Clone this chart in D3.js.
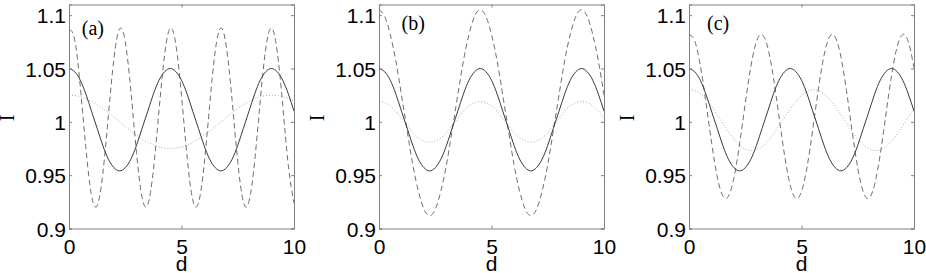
<!DOCTYPE html>
<html>
<head>
<meta charset="utf-8">
<script src="https://cdn.jsdelivr.net/npm/d3@7"></script>
<style>
  body { margin: 0; background: #fff; }
  svg { display: block; }
</style>
</head>
<body>
<svg id="chart" width="926" height="273"></svg>
<script>
// sample positions along d
var dGrid = [0, 0.25, 0.5, 0.75, 1, 1.25, 1.5, 1.75, 2, 2.25, 2.5, 2.75, 3, 3.25, 3.5, 3.75,
  4, 4.25, 4.5, 4.75, 5, 5.25, 5.5, 5.75, 6, 6.25, 6.5, 6.75, 7, 7.25, 7.5, 7.75,
  8, 8.25, 8.5, 8.75, 9, 9.25, 9.5, 9.75, 10];

// solid curve, same in all three panels
var solidI = [1.050, 1.047, 1.039, 1.026, 1.010, 0.994, 0.978, 0.965, 0.957, 0.954,
  0.957, 0.965, 0.978, 0.994, 1.010, 1.026, 1.039, 1.047,
  1.050, 1.047, 1.039, 1.026, 1.010, 0.994, 0.978, 0.965, 0.957, 0.954,
  0.957, 0.965, 0.978, 0.994, 1.010, 1.026, 1.039, 1.047,
  1.050, 1.047, 1.039, 1.026, 1.010];

// panel (a)
var dashedA = [1.0864, 1.0774, 1.0335, 0.9756, 0.9312, 0.9214, 0.9510, 1.0058, 1.0598, 1.0872,
  1.0750, 1.0290, 0.9712, 0.9289, 0.9224, 0.9547, 1.0105, 1.0632, 1.0877, 1.0724,
  1.0245, 0.9669, 0.9269, 0.9237, 0.9586, 1.0152, 1.0665, 1.0880, 1.0695, 1.0199,
  0.9627, 0.9251, 0.9252, 0.9627, 1.0199, 1.0695, 1.0880, 1.0665, 1.0152, 0.9586, 0.9236];
var dottedA = [1.0250, 1.0246, 1.0235, 1.0217, 1.0192, 1.0161, 1.0125, 1.0086, 1.0043, 1.0000,
  0.9957, 0.9914, 0.9875, 0.9839, 0.9808, 0.9783, 0.9765, 0.9754, 0.9750, 0.9754,
  0.9765, 0.9783, 0.9808, 0.9839, 0.9875, 0.9914, 0.9957, 1.0000, 1.0043, 1.0086,
  1.0125, 1.0161, 1.0192, 1.0217, 1.0235, 1.0246, 1.0250, 1.0246, 1.0235, 1.0217, 1.0192];

// panel (b)
var dashedB = [1.105, 1.099, 1.082, 1.057, 1.025, 0.992, 0.960, 0.935, 0.918, 0.912,
  0.918, 0.935, 0.960, 0.992, 1.025, 1.057, 1.082, 1.099,
  1.105, 1.099, 1.082, 1.057, 1.025, 0.992, 0.960, 0.935, 0.918, 0.912,
  0.918, 0.935, 0.960, 0.992, 1.025, 1.057, 1.082, 1.099,
  1.105, 1.099, 1.082, 1.057, 1.025];
var dottedB = [1.019, 1.018, 1.015, 1.010, 1.003, 0.997, 0.990, 0.985, 0.982, 0.981,
  0.982, 0.985, 0.990, 0.997, 1.003, 1.010, 1.015, 1.018,
  1.019, 1.018, 1.015, 1.010, 1.003, 0.997, 0.990, 0.985, 0.982, 0.981,
  0.982, 0.985, 0.990, 0.997, 1.003, 1.010, 1.015, 1.018,
  1.019, 1.018, 1.015, 1.010, 1.003];

// panel (c)
var dashedC = [1.0816, 1.0760, 1.0532, 1.0187, 0.9809, 0.9490, 0.9306, 0.9302, 0.9479, 0.9795,
  1.0172, 1.0520, 1.0754, 1.0818, 1.0696, 1.0417, 1.0050, 0.9683, 0.9404, 0.9282,
  0.9346, 0.9580, 0.9928, 1.0305, 1.0621, 1.0798, 1.0794, 1.0611, 1.0291, 0.9913,
  0.9568, 0.9340, 0.9284, 0.9413, 0.9696, 1.0065, 1.0431, 1.0704, 1.0819, 1.0748, 1.0507];
var dottedC = [1.0300, 1.0292, 1.0262, 1.0211, 1.0145, 1.0068, 0.9987, 0.9909, 0.9838, 0.9782,
  0.9746, 0.9730, 0.9738, 0.9768, 0.9819, 0.9885, 0.9962, 1.0043, 1.0121, 1.0192,
  1.0248, 1.0284, 1.0300, 1.0292, 1.0262, 1.0211, 1.0145, 1.0068, 0.9987, 0.9909,
  0.9838, 0.9782, 0.9746, 0.9730, 0.9738, 0.9768, 0.9819, 0.9885, 0.9962, 1.0043, 1.0121];

var panelNames = ['(a)', '(b)', '(c)'];
var xTicks = [0, 5, 10];
var yTicks = [0.9, 0.95, 1, 1.05, 1.1];
var yTickLabels = ['0.9', '0.95', '1', '1.05', '1.1'];

var panels = [
  { name: panelNames[0], solid: solidI, dashed: dashedA, dotted: dottedA },
  { name: panelNames[1], solid: solidI, dashed: dashedB, dotted: dottedB },
  { name: panelNames[2], solid: solidI, dashed: dashedC, dotted: dottedC }
];

var svg = d3.select('#chart');
var W = 225, H = 224, marginTop = 4.5;
var lefts = [69, 379, 689];
var nameAt = [[0.57, 1.0814], [1.0, 1.086], [0.8, 1.086]];
var frameColor = '#808080';
var sansFont = '"Liberation Sans", Arial, Helvetica, sans-serif';
var serifFont = '"Liberation Serif", "Times New Roman", serif';

var x = d3.scaleLinear().domain([0, 10]).range([0, W]);
var y = d3.scaleLinear().domain([0.9, 1.11]).range([H, 0]);

var line = d3.line()
  .x(function(d, i) { return x(dGrid[i]); })
  .y(function(d) { return y(d); })
  .curve(d3.curveNatural);

panels.forEach(function(p, pi) {
  var g = svg.append('g').attr('transform', 'translate(' + lefts[pi] + ',' + marginTop + ')');

  g.append('clipPath').attr('id', 'clip' + pi)
    .append('rect').attr('width', W).attr('height', H);

  var plot = g.append('g').attr('clip-path', 'url(#clip' + pi + ')');

  plot.append('path')
    .attr('d', line(p.dotted))
    .attr('fill', 'none')
    .attr('stroke', '#a8a8a8')
    .attr('stroke-width', 1)
    .attr('stroke-dasharray', '1,2');

  plot.append('path')
    .attr('d', line(p.dashed))
    .attr('fill', 'none')
    .attr('stroke', '#6e6e6e')
    .attr('stroke-width', 1)
    .attr('stroke-dasharray', '5.5,3.5');

  plot.append('path')
    .attr('d', line(p.solid))
    .attr('fill', 'none')
    .attr('stroke', '#3a3a3a')
    .attr('stroke-width', 1);

  // axes, ticks pointing inwards on all four sides
  var axL = d3.axisLeft(y).tickValues(yTicks).tickSize(-3).tickFormat(function(d, i) { return yTickLabels[i]; });
  var axR = d3.axisRight(y).tickValues(yTicks).tickSize(-3).tickFormat('');
  var axB = d3.axisBottom(x).tickValues(xTicks).tickSize(-3).tickFormat(d3.format('d'));
  var axT = d3.axisTop(x).tickValues(xTicks).tickSize(-3).tickFormat('');

  var gl = g.append('g').call(axL);
  g.append('g').attr('transform', 'translate(' + W + ',0)').call(axR);
  var gb = g.append('g').attr('transform', 'translate(0,' + H + ')').call(axB);
  g.append('g').call(axT);

  g.selectAll('.domain').attr('stroke', frameColor).attr('stroke-width', 1);
  g.selectAll('.tick line').attr('stroke', frameColor);

  gl.selectAll('.tick text')
    .attr('x', -3)
    .attr('dy', '0.36em')
    .attr('font-family', sansFont)
    .attr('font-size', 21)
    .attr('fill', '#000');

  gb.selectAll('.tick text')
    .attr('y', 0)
    .attr('dy', 25)
    .attr('font-family', sansFont)
    .attr('font-size', 21)
    .attr('fill', '#000');

  // axis labels
  g.append('text')
    .attr('x', W / 2)
    .attr('y', 266)
    .attr('text-anchor', 'middle')
    .attr('font-family', sansFont)
    .attr('font-size', 21)
    .text('d');

  g.append('text')
    .attr('transform', 'translate(-55,' + (y(1) - 4) + ') rotate(-90)')
    .attr('text-anchor', 'middle')
    .attr('font-family', serifFont)
    .attr('font-size', 20)
    .text('I');

  g.append('text')
    .attr('x', x(nameAt[pi][0]))
    .attr('y', y(nameAt[pi][1]))
    .attr('font-family', serifFont)
    .attr('font-size', 20)
    .text(p.name);
});
</script>
</body>
</html>
